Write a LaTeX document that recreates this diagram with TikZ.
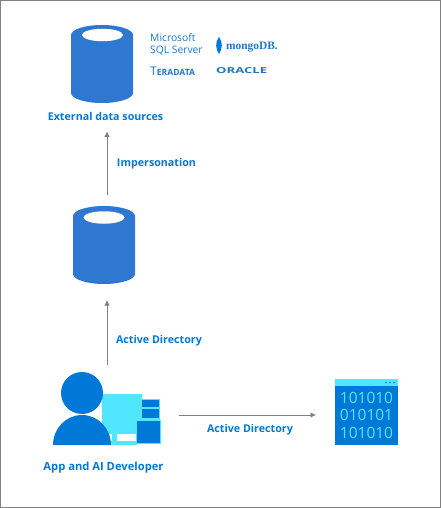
\documentclass[tikz,border=0pt]{standalone}
\usepackage{fontspec}
\setmainfont{Open Sans}
\newfontfamily\mongofont{Liberation Serif}
\usetikzlibrary{arrows.meta,shapes.geometric}
\definecolor{dbblue}{HTML}{2E78D2}
\definecolor{msblue}{HTML}{0078D7}
\definecolor{msdark}{HTML}{1F76C8}
\definecolor{mscyan}{HTML}{50E6FF}
\definecolor{edgegray}{HTML}{808080}
\tikzset{
  dbhole/.style={ellipse,fill=white,draw=none,inner sep=0pt,minimum width=41pt,minimum height=12.5pt},
  lbl/.style={text=msblue,font=\bfseries\fontsize{10.7}{13}\selectfont,inner sep=0pt},
  logo/.style={text=msdark,inner sep=0pt,align=left,font=\fontsize{10.3}{12.3}\selectfont},
  flow/.style={draw=edgegray,line width=0.8pt,-{Latex[length=5.5pt,width=5.5pt]}},
  ghost/.style={draw=none,inner sep=0pt,outer sep=0pt}
}
% cylinder: name, centre x, centre y
\newcommand{\dbcyl}[3]{
\node [ghost,minimum width=62pt,minimum height=78pt] (#1) at (#2,#3) {};
\fill [dbblue] ([yshift=-10pt]#1.north west) arc (180:360:31 and 10)
  -- ([yshift=10pt]#1.south east) arc (0:180:31 and 10) -- cycle;
}
\begin{document}
\begin{tikzpicture}[x=1pt,y=-1pt]
\useasboundingbox (0,0) rectangle (441,508);
\draw [edgegray,line width=0.8pt] (0.5,0.5) rectangle (440.5,507.5);
% databases
\dbcyl{extdb}{102}{64}
\node [dbhole] (exthole) at (102.5,35) {};
\node [lbl] (extlabel) at (105.5,116) {External data sources};
\dbcyl{proxydb}{104}{245}
\node [dbhole] (proxyhole) at (104,217.5) {};
% logos
\node [logo,anchor=north west] (sqllogo) at (150,33.5) {Microsoft\\SQL Server};
\node [logo,anchor=west] (teralogo) at (150,71) {\fontsize{12}{12}\selectfont T\fontsize{8.6}{9}\selectfont\bfseries ERADATA};
\node [logo,anchor=west] (oraclelogo) at (216,71) {\scalebox{1.75}[1.1]{\bfseries\fontsize{7.5}{8}\selectfont ORACLE}};
\node [logo,anchor=west] (mongologo) at (226,47) {\mongofont\bfseries\fontsize{11.4}{12}\selectfont mongoDB.};
\fill [msblue] (219,37) .. controls (223,42) and (222.5,49) .. (219,54) .. controls (215.5,49) and (215,42) .. (219,37);
% developer
\node [ghost,minimum width=106pt,minimum height=80pt] (dev) at (107,405) {};
\fill [mscyan] (102,394) rectangle (142,433);
\fill [mscyan] (102,433) rectangle (137,445);
\fill [white] (105,434) rectangle (112,441);
\fill [white] (117,434) rectangle (136,441);
\fill [mscyan] (142,399) rectangle (160,420);
\fill [mscyan] (137,420) rectangle (161,444);
\fill [msblue] (142,400) rectangle (158.5,407);
\fill [msblue] (142,408.5) rectangle (158.5,418);
\fill [msblue] (137,420.5) rectangle (159.5,443);
\fill [msblue] (82,393) circle (21);
\fill [msblue] (53,445) arc (180:360:29 and 30) -- cycle;
\node [lbl,font=\bfseries\fontsize{11.2}{13}\selectfont] (devlabel) at (103.5,467.5) {App and AI Developer};
% binary window
\node [ghost,fill=msblue,minimum width=63pt,minimum height=66pt] (bin) at (366.5,412) {};
\fill [mscyan] (bin.north west) rectangle ([yshift=-7pt]bin.north east);
\foreach \dotx in {386,390,394} \fill [msblue] (\dotx,382.5) circle (0.9);
\node [text=mscyan,inner sep=0pt,align=center,font=\fontsize{15.5}{17.5}\selectfont] (bintext) at (366.5,415) {101010\\010101\\101010};
% connectors
\draw [flow,shorten >=16pt] (dev.north) -- (dev.north |- proxydb.south);
\draw [flow,shorten >=11pt] (dev.north |- proxydb.north) ++(0,-11) -- (dev.north |- extlabel.south);
\draw [flow,shorten <=19pt,shorten >=19pt] ([yshift=-10pt]dev.east) -- ([yshift=-3pt]bin.west);
\node [lbl] (implabel) at (156.5,164) {Impersonation};
\node [lbl] (adlabel) at (159,341) {Active Directory};
\node [lbl] (adlabeltwo) at (250,430) {Active Directory};
\end{tikzpicture}
\end{document}
